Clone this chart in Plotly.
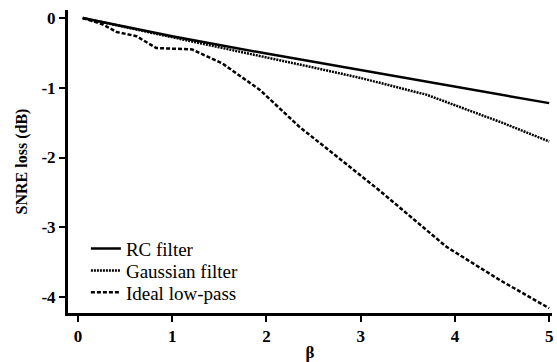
import plotly.graph_objects as go

beta_rc = [0.05, 1.0, 2.0, 3.0, 4.0, 5.0]
loss_rc = [0.0, -0.26, -0.51, -0.75, -0.99, -1.22]

beta_gauss = [0.05, 0.5, 1.0, 1.5, 2.0, 2.5, 3.0, 3.7, 4.0, 4.5, 5.0]
loss_gauss = [0.0, -0.13, -0.27, -0.41, -0.56, -0.71, -0.86, -1.10, -1.25, -1.50, -1.77]

beta_ideal = [0.05, 0.26, 0.41, 0.62, 0.83, 1.21, 1.53, 1.93, 2.35, 3.05, 3.17, 3.91, 4.48, 5.0]
loss_ideal = [0.0, -0.09, -0.2, -0.26, -0.43, -0.45, -0.65, -1.03, -1.56, -2.32, -2.44, -3.28, -3.76, -4.16]

x_ticks = [0, 1, 2, 3, 4, 5]
y_ticks = [0, -1, -2, -3, -4]
y_ticktext = ["0", "-1", "-2", "-3", "-4"]

font = '"Liberation Serif", "Times New Roman", Times, serif'

fig = go.Figure()
fig.add_trace(go.Scatter(x=beta_rc, y=loss_rc, mode="lines", name="RC filter",
                         line=dict(color="black", width=2.5), legend="legend"))
fig.add_trace(go.Scatter(x=beta_gauss, y=loss_gauss, mode="lines", name="Gaussian filter",
                         line=dict(color="black", width=2.5, dash="2px,1px"), legend="legend2"))
fig.add_trace(go.Scatter(x=beta_ideal, y=loss_ideal, mode="lines", name="Ideal low-pass",
                         line=dict(color="black", width=2.5, dash="4px,2px"), legend="legend3"))

leg_common = dict(x=0.037, xanchor="left", yanchor="middle", bgcolor="rgba(0,0,0,0)",
                  font=dict(family=font, size=19), itemwidth=30)

fig.update_layout(
    width=557, height=362,
    margin=dict(l=68, r=5, t=10, b=49),
    paper_bgcolor="white", plot_bgcolor="white",
    font=dict(family=font, size=16, color="black"),
    showlegend=True,
    legend=dict(y=0.212, **leg_common),
    legend2=dict(y=0.140, **leg_common),
    legend3=dict(y=0.068, **leg_common),
    xaxis=dict(range=[-0.106, 5.03], tickvals=x_ticks, showgrid=False, zeroline=False,
               automargin=False,
               showline=True, linecolor="black", linewidth=3,
               ticks="outside", ticklen=6, tickwidth=2, tickcolor="black",
               tickfont=dict(family=font, size=17, weight="bold"),
               title=dict(text="β", font=dict(family=font, size=17, weight="bold"), standoff=5)),
    yaxis=dict(range=[-4.229, 0.115], tickvals=y_ticks, ticktext=y_ticktext,
               showgrid=False, zeroline=False, automargin=False,
               showline=True, linecolor="black", linewidth=3,
               ticks="outside", ticklen=6, tickwidth=2, tickcolor="black",
               tickfont=dict(family=font, size=17, weight="bold"),
               title=dict(text="SNRE loss (dB)", font=dict(family=font, size=16, weight="bold"), standoff=10)),
)

fig.write_html("out.html")
